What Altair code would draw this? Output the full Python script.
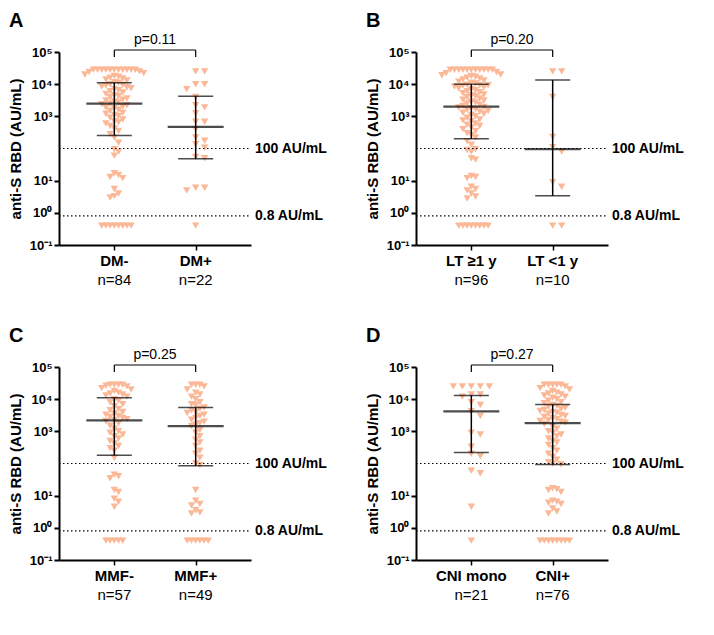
import altair as alt
import pandas as pd
import numpy as np

FONT = "Liberation Sans"
COLOR = "#FBB896"

# ---------------- data ----------------
A_cats = ["DM-", "DM+"]
A_ns = ["n=84", "n=22"]
A_p = "p=0.11"
A_g1 = [0.4, 0.4, 0.4, 0.4, 0.4, 0.4, 0.4, 0.4, 3.0, 3.3, 4.0, 5.5, 12, 13, 15, 17,
        60, 80, 95, 150, 220, 280,
        350, 420, 500, 600, 650, 700, 800, 900, 1000, 1100, 1200, 1300, 1500, 1600,
        1800, 1900, 2000, 2200, 2400, 2500,
        2700, 2900, 3100, 3300, 3600, 3900, 4200, 4500, 5000, 5500, 6000, 6500, 7000,
        7500, 8000, 8500, 9000, 9500, 10000, 11000, 11500,
        13000, 14000, 15000, 16000, 17000, 18000, 20000, 22000, 24000, 25000,
        28000, 28000, 28000, 28000, 28000, 28000, 28000, 28000, 28000, 28000, 28000]
A_g2 = [25000, 25000, 10000, 7000, 10000, 4000, 2200, 1900, 1250, 680, 680, 400,
        220, 175, 135, 105, 50, 55, 6, 6, 5, 0.4]
A_median = [2500, 470]
A_q1 = [255, 48]
A_q3 = [11000, 4200]

B_cats = ["LT \u22651 y", "LT <1 y"]
B_ns = ["n=96", "n=10"]
B_p = "p=0.20"
B_g1 = [0.4, 0.4, 0.4, 0.4, 0.4, 0.4, 0.4, 0.4, 2.8, 3.2, 4.0, 5.0, 5.5, 6.5, 12, 13, 14,
        45, 50, 80, 90, 95, 130, 170,
        220, 260, 300, 350, 400, 450, 500, 550, 600, 700, 750, 800, 900, 1000, 1100,
        1200, 1300, 1400, 1500, 1600, 1700, 1800, 1900, 1950,
        2100, 2300, 2500, 2700, 2900, 3100, 3300, 3600, 3900, 4200, 4500, 4800, 5200,
        5600, 6000, 6500, 7000, 7500, 8000, 8500, 9000, 9200, 9400, 9600,
        10500, 11000, 12000, 13000, 14000, 15000, 16000, 17000, 18000, 19000, 20000,
        22000, 24000,
        28000, 28000, 28000, 28000, 28000, 28000, 28000, 28000, 28000, 28000, 28000]
B_g2 = [25000, 25000, 4000, 230, 110, 80, 9, 6.5, 0.4, 0.4]
B_median = [2000, 95]
B_q1 = [200, 3.4]
B_q3 = [10000, 13500]

C_cats = ["MMF-", "MMF+"]
C_ns = ["n=57", "n=49"]
C_p = "p=0.25"
C_g1 = [0.4, 0.4, 0.4, 0.4, 0.4, 4.5, 6.5, 8, 13, 15, 35, 40, 45, 150,
        250, 300, 350, 420, 500, 600, 700, 800, 900, 1000, 1200, 1500, 1800, 2100, 2200,
        2400, 2600, 2800, 3000, 3300, 3600, 4000, 4500, 5000, 6000, 7000, 8000, 9000, 10000,
        12000, 13000, 14000, 15000, 16000, 18000, 20000, 22000, 25000, 26000,
        28000, 28000, 28000, 28000]
C_g2 = [0.4, 0.4, 0.4, 0.4, 0.4, 0.4, 2.8, 3.0, 3.5, 5.0, 5.5, 7.0, 15, 90, 100,
        150, 200, 250, 350, 450, 550, 700, 900, 1100, 1450,
        1600, 1800, 2000, 2300, 2600, 3000, 3300, 3700, 4000, 4500, 5000, 5500,
        6500, 7000, 8000, 10000, 12000, 14000, 16000, 20000, 25000, 28000, 28000, 28000]
C_median = [2200, 1450]
C_q1 = [180, 85]
C_q3 = [11000, 5500]

D_cats = ["CNI mono", "CNI+"]
D_ns = ["n=21", "n=76"]
D_p = "p=0.27"
D_g1 = [25000, 25000, 25000, 25000, 25000, 14000, 14000, 12000, 8000, 6600, 4200,
        3000, 900, 800, 330, 200, 170, 60, 50, 4.5, 0.4]
D_g2 = [0.4, 0.4, 0.4, 0.4, 0.4, 0.4, 0.4, 0.4, 2.8, 3.2, 4.0, 5.5, 6.0, 6.5, 7.0,
        13, 15, 16, 17, 95,
        100, 110, 130, 160, 200, 250, 300, 380, 450, 500, 600, 700, 800, 900, 1000,
        1200, 1400, 1700,
        1900, 2000, 2100, 2200, 2400, 2600, 2800, 3000, 3200, 3500, 3800, 4000, 4300,
        4600, 5000, 5400, 5800, 6200, 6600,
        7500, 8000, 9000, 10000, 11000, 12000, 13000, 14000, 15000, 16000, 18000,
        20000, 22000, 25000, 28000, 28000, 28000, 28000, 28000]
D_median = [4200, 1800]
D_q1 = [220, 93]
D_q3 = [13000, 6800]

REF_VALUES = [100, 0.8]
REF_LABELS = ["100 AU/mL", "0.8 AU/mL"]

# ---------------- layout helpers ----------------
W, H = 192, 193
XMIN, XMAX = -0.68, 1.68
PX_X = W / (XMAX - XMIN)
PX_Y = H / 6.0


def swarm(vals, center):
    n = len(vals)
    mw = 9.0 if n < 30 else 4.2
    mh = 6.0
    step = mw / 2.0
    cap = 34.0
    ys = [(5 - np.log10(v)) * PX_Y for v in vals]
    order = sorted(range(n), key=lambda i: ys[i])
    cands = [0.0]
    k = 1
    while k * step <= cap:
        cands += [k * step, -k * step]
        k += 1
    placed = []
    xs = [0.0] * n
    for i in order:
        y = ys[i]
        best, bestc = None, None
        for c in cands:
            cnt = sum(1 for (px, py) in placed if abs(px - c) < mw - 1e-6 and abs(py - y) < mh)
            if cnt == 0:
                best = c
                break
            if bestc is None or cnt < bestc:
                best, bestc = c, cnt
        placed.append((best, y))
        xs[i] = center + best / PX_X
    return xs


xscale = alt.Scale(domain=[XMIN, XMAX], nice=False, zero=False)
yscale = alt.Scale(type="log", domain=[0.1, 100000], nice=False)

label_expr = ("datum.value >= 100000 ? '10\u2075' : datum.value >= 10000 ? '10\u2074' : "
              "datum.value >= 1000 ? '10\u00b3' : datum.value >= 10 ? '10\u00b9' : "
              "datum.value >= 1 ? '10\u2070' : '10\u207b\u00b9'")


def panel(letter, cats, ns, p, g1, g2, med, q1, q3):
    pts = pd.DataFrame({
        "x": swarm(g1, 0) + swarm(g2, 1),
        "v": g1 + g2,
    })
    summ = pd.DataFrame({"x": [0, 1], "med": med, "q1": q1, "q3": q3,
                         "cat": cats, "n": ns})
    refs = pd.DataFrame({"v": REF_VALUES, "lab": REF_LABELS})

    X = alt.X("x:Q", scale=xscale,
              axis=alt.Axis(values=[0, 1], labels=False, title=None, grid=False,
                            domainWidth=2, domainColor="black", tickColor="black",
                            tickWidth=1.5, tickSize=5))
    Y = alt.Y("v:Q", scale=yscale,
              axis=alt.Axis(values=[0.1, 1, 10, 1000, 10000, 100000], labelExpr=label_expr,
                            title="anti-S RBD (AU/mL)", titleFont=FONT, titleFontSize=15,
                            titleFontWeight="bold", titleColor="black", titlePadding=6,
                            labelFont=FONT, labelFontSize=13, labelFontWeight="bold",
                            labelColor="black", labelPadding=2, grid=False,
                            domainWidth=2, domainColor="black", tickColor="black",
                            tickWidth=2, tickSize=5))

    points = alt.Chart(pts).mark_point(shape="triangle-down", filled=True, size=55,
                                       color=COLOR, opacity=1).encode(x=X, y=Y)

    refline = alt.Chart(refs).mark_rule(strokeDash=[1.5, 2.5], strokeWidth=1.2,
                                        color="black").encode(
        y=alt.Y("v:Q", scale=yscale), x=alt.value(0), x2=alt.value(W))
    reftext = alt.Chart(refs).mark_text(align="left", baseline="middle", font=FONT,
                                        fontSize=14, fontWeight="bold", color="black",
                                        dx=4).encode(
        y=alt.Y("v:Q", scale=yscale), x=alt.value(W), text="lab:N")

    vbar = alt.Chart(summ).mark_rule(strokeWidth=1.5, color="black").encode(
        x=alt.X("x:Q", scale=xscale), y=alt.Y("q1:Q", scale=yscale), y2="q3:Q")
    medtick = alt.Chart(summ).mark_tick(orient="horizontal", size=56, thickness=2.2,
                                        color="black").encode(
        x=alt.X("x:Q", scale=xscale), y=alt.Y("med:Q", scale=yscale))
    q1tick = alt.Chart(summ).mark_tick(orient="horizontal", size=35, thickness=1.5,
                                       color="black").encode(
        x=alt.X("x:Q", scale=xscale), y=alt.Y("q1:Q", scale=yscale))
    q3tick = alt.Chart(summ).mark_tick(orient="horizontal", size=35, thickness=1.5,
                                       color="black").encode(
        x=alt.X("x:Q", scale=xscale), y=alt.Y("q3:Q", scale=yscale))

    bracket = alt.Chart(pd.DataFrame({"a": [0], "b": [1]})).mark_rule(
        strokeWidth=1.2, color="black").encode(
        x=alt.X("a:Q", scale=xscale), x2="b:Q", y=alt.value(-2))
    legs = alt.Chart(summ).mark_rule(strokeWidth=1.2, color="black").encode(
        x=alt.X("x:Q", scale=xscale), y=alt.value(-2), y2=alt.value(5))
    ptext = alt.Chart(pd.DataFrame({"t": [p]})).mark_text(
        font=FONT, fontSize=14, color="black", baseline="middle").encode(
        x=alt.value(W * (0.5 - XMIN) / (XMAX - XMIN)), y=alt.value(-12), text="t:N")

    catlab = alt.Chart(summ).mark_text(font=FONT, fontSize=15, fontWeight="bold",
                                       color="black", baseline="middle").encode(
        x=alt.X("x:Q", scale=xscale), y=alt.value(H + 16), text="cat:N")
    nlab = alt.Chart(summ).mark_text(font=FONT, fontSize=15, color="black",
                                     baseline="middle").encode(
        x=alt.X("x:Q", scale=xscale), y=alt.value(H + 35), text="n:N")
    letter_t = alt.Chart(pd.DataFrame({"t": [letter]})).mark_text(
        font=FONT, fontSize=20, fontWeight="bold", color="black", align="left",
        baseline="alphabetic").encode(x=alt.value(-50), y=alt.value(-25), text="t:N")

    return alt.layer(points, refline, reftext, vbar, medtick, q1tick, q3tick,
                     bracket, legs, ptext, catlab, nlab, letter_t).properties(
        width=W, height=H)


pA = panel("A", A_cats, A_ns, A_p, A_g1, A_g2, A_median, A_q1, A_q3)
pB = panel("B", B_cats, B_ns, B_p, B_g1, B_g2, B_median, B_q1, B_q3)
pC = panel("C", C_cats, C_ns, C_p, C_g1, C_g2, C_median, C_q1, C_q3)
pD = panel("D", D_cats, D_ns, D_p, D_g1, D_g2, D_median, D_q1, D_q3)

chart = alt.concat(pA, pB, pC, pD, columns=2, spacing={"row": 122, "column": 165},
                   bounds="flush").properties(
    padding={"left": 0, "top": 3, "right": 5, "bottom": 5},
    background="white",
).configure_view(stroke=None).configure_text(font=FONT)

chart.save("out.html", embed_options={"renderer": "svg", "actions": False})
